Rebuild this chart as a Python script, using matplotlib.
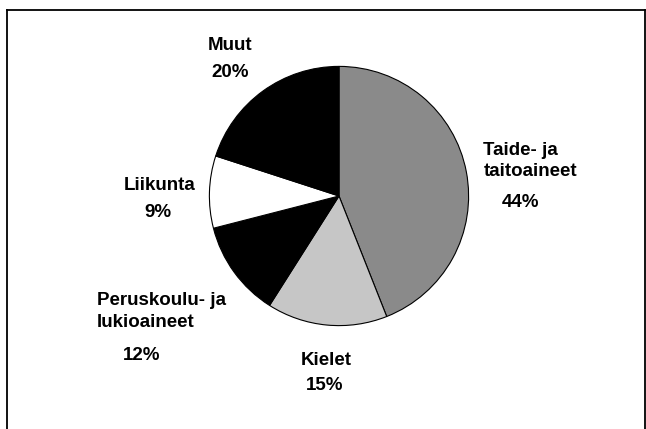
import matplotlib
matplotlib.use("Agg")
import matplotlib.pyplot as plt
from matplotlib.lines import Line2D

labels = ["Taide- ja\ntaitoaineet", "Kielet", "Peruskoulu- ja\nlukioaineet", "Liikunta", "Muut"]
shares = [44, 15, 12, 9, 20]
colors = ["#8a8a8a", "#c6c6c6", "#000000", "#ffffff", "#000000"]

W, H = 646, 429
plt.rcParams["font.family"] = ["Liberation Sans", "DejaVu Sans"]

fig = plt.figure(figsize=(W / 100, H / 100), dpi=100)

# pie centre ~(339,196) px, radius ~130 px
cx, cy, r = 339, 196, 130
ax = fig.add_axes([(cx - r) / W, (H - cy - r) / H, 2 * r / W, 2 * r / H])
ax.pie(shares, colors=colors, startangle=90, counterclock=False,
       wedgeprops=dict(edgecolor="black", linewidth=0.8))
ax.set_xlim(-1.003, 1.003); ax.set_ylim(-1.003, 1.003)
ax.set_aspect("equal"); ax.axis("off")

# frame
for xs, ys in [([7, 645], [10, 10]), ([7, 7], [10, 429]), ([645, 645], [10, 429])]:
    fig.add_artist(Line2D([x / W for x in xs], [1 - y / H for y in ys],
                          color="black", lw=1.3))

def t(x, y, s, ha="left"):
    # y is the baseline in pixels from the top
    fig.text(x / W, 1 - y / H, s, ha=ha, va="baseline",
             fontsize=13.5, fontweight="bold")

t(230, 50, labels[4], "center")
t(230, 77, f"{shares[4]}%", "center")
t(483, 155, "Taide- ja")
t(484, 176, "taitoaineet")
t(520, 207, f"{shares[0]}%", "center")
t(160, 190, labels[3], "center")
t(158, 217, f"{shares[3]}%", "center")
t(97, 305, "Peruskoulu- ja")
t(97, 327, "lukioaineet")
t(142, 360, f"{shares[2]}%", "center")
t(326, 365, labels[1], "center")
t(325, 390, f"{shares[1]}%", "center")

fig.savefig("out.png", dpi=100)
